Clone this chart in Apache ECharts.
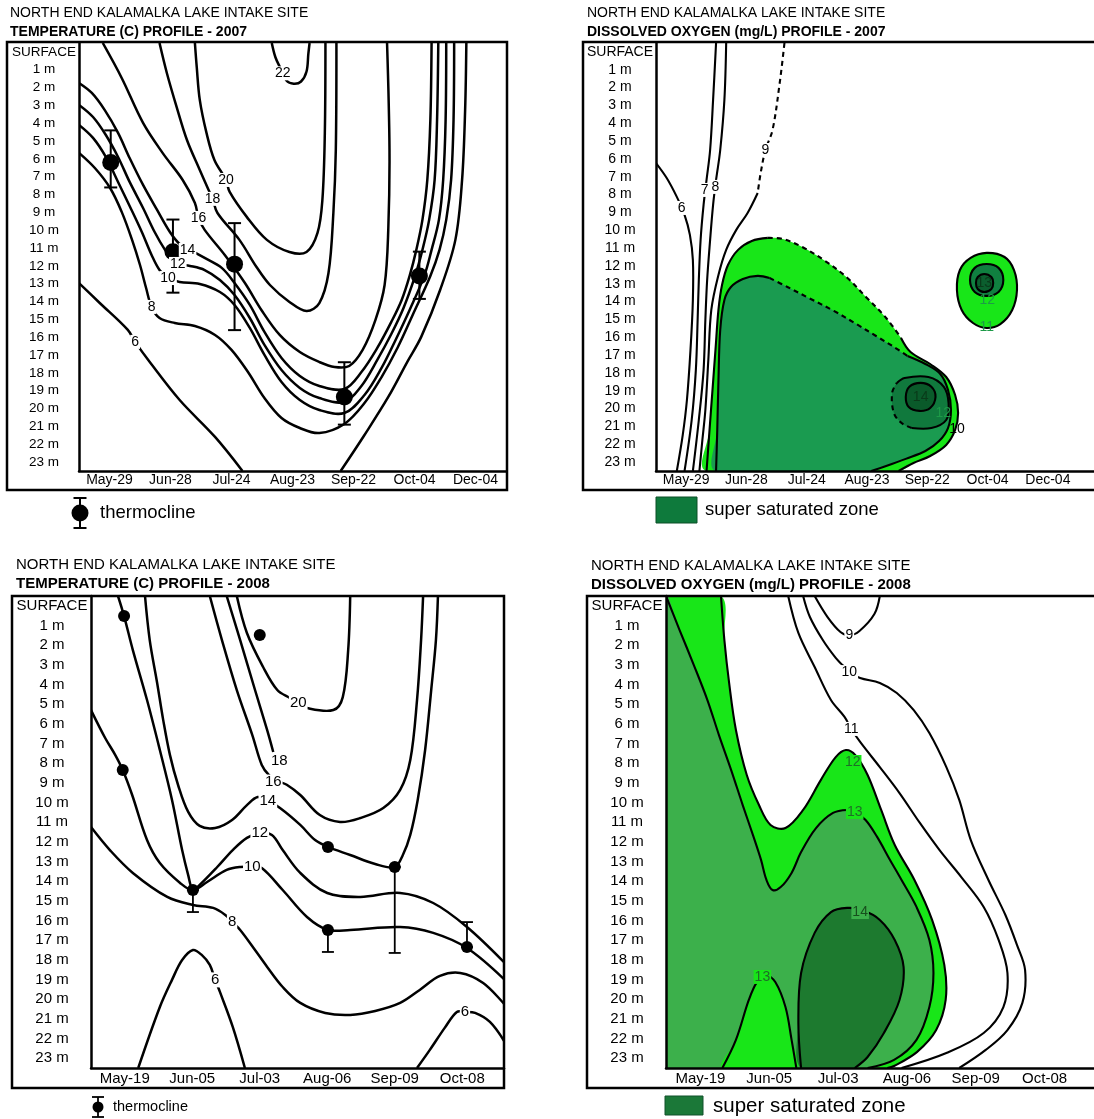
<!DOCTYPE html>
<html>
<head>
<meta charset="utf-8">
<script src="https://cdn.jsdelivr.net/npm/echarts@6/dist/echarts.min.js"></script>
<style>
html,body{margin:0;padding:0;background:#fff;}
#chart{width:1094px;height:1119px;}
</style>
</head>
<body>
<div id="chart"></div>
<script>
// ---------- axis categories ----------
const depthLabels = ['SURFACE','1 m','2 m','3 m','4 m','5 m','6 m','7 m','8 m','9 m','10 m','11 m',
  '12 m','13 m','14 m','15 m','16 m','17 m','18 m','19 m','20 m','21 m','22 m','23 m'];
const dates2007 = ['May-29','Jun-28','Jul-24','Aug-23','Sep-22','Oct-04','Dec-04'];
const dates2008 = ['May-19','Jun-05','Jul-03','Aug-06','Sep-09','Oct-08'];

// Points are [date position (index of the sampling date), depth in m]

// ---------- Temperature 2007 isotherms ----------
const t07_22 = [[2.66,-0.5],[2.72,0.3],[2.80,0.9],[2.90,1.6],[3.02,1.78],[3.14,1.66],[3.23,1.1],[3.26,0.1],[3.28,-0.5]];
const t07_20 = [[1.40,-0.5],[1.43,0.84],[1.48,2.69],[1.59,4.54],[1.72,6.06],[1.91,7.18],[1.97,7.85],[2.25,9.25],[2.58,10.54],[2.95,11.22],[3.23,11.22],[3.41,10.15],[3.49,8.3],[3.53,4.54],[3.54,-0.5]];
const t07_18 = [[0.82,-0.5],[0.94,1.18],[1.10,3.08],[1.27,4.94],[1.48,6.62],[1.61,7.63],[1.69,8.24],[1.77,9.03],[2.13,10.54],[2.41,12.06],[2.63,13.07],[2.95,14.02],[3.23,14.53],[3.44,14.08],[3.59,12.4],[3.67,9.03],[3.71,5.5],[3.72,-0.5]];
const t07_16 = [[-0.11,-0.5],[0.2,1.46],[0.55,3.98],[0.87,5.66],[1.2,7.18],[1.40,8.47],[1.46,9.31],[1.56,9.98],[1.89,11.39],[2.22,12.96],[2.49,14.47],[2.79,15.87],[3.12,16.83],[3.44,17.39],[3.69,17.67],[3.93,17.61],[4.15,16.71],[4.36,15.03],[4.51,13.07],[4.57,9.98],[4.59,5.5],[4.55,-0.5]];
const t07_14 = [[-0.5,1.74],[-0.29,2.30],[-0.08,3.25],[0.14,4.54],[0.33,5.95],[0.55,7.46],[0.78,8.86],[0.99,10.10],[1.15,10.77],[1.32,11.10],[1.56,11.55],[1.84,12.11],[2.05,12.96],[2.30,14.19],[2.54,15.70],[2.82,17.16],[3.12,18.17],[3.44,18.73],[3.85,18.90],[4.13,17.95],[4.39,16.60],[4.62,15.14],[4.79,13.91],[4.92,12.56],[5.03,11.10],[5.13,9.42],[5.21,7.18],[5.26,3.81],[5.28,-0.5]];
const t07_12 = [[-0.5,2.97],[-0.27,3.65],[-0.06,4.66],[0.14,5.89],[0.33,7.29],[0.55,8.75],[0.74,10.10],[0.91,11.10],[1.02,11.55],[1.12,11.89],[1.32,12.00],[1.56,12.23],[1.81,12.79],[2.05,13.63],[2.30,14.92],[2.54,16.43],[2.82,17.84],[3.12,18.84],[3.44,19.41],[3.85,19.63],[4.13,18.73],[4.39,17.27],[4.62,15.82],[4.82,14.36],[5.01,12.56],[5.13,11.10],[5.24,9.42],[5.33,7.18],[5.37,3.81],[5.39,-0.5]];
const t07_10 = [[-0.5,4.09],[-0.27,4.82],[-0.06,5.89],[0.14,7.29],[0.33,8.64],[0.53,10.10],[0.69,11.39],[0.82,12.23],[0.96,12.68],[1.15,12.90],[1.48,13.01],[1.81,13.46],[2.05,14.19],[2.30,15.48],[2.54,16.99],[2.82,18.51],[3.12,19.52],[3.44,20.08],[3.85,20.25],[4.18,19.24],[4.46,17.72],[4.69,16.15],[4.92,14.47],[5.16,12.56],[5.28,11.10],[5.40,9.42],[5.47,7.18],[5.51,3.81],[5.52,-0.5]];
const t07_8 = [[-0.5,5.66],[-0.24,6.51],[0.01,7.63],[0.20,8.97],[0.37,10.54],[0.50,11.95],[0.60,13.24],[0.69,14.30],[0.82,14.92],[1.07,15.20],[1.40,15.37],[1.73,15.87],[2.00,16.71],[2.27,17.95],[2.54,19.41],[2.82,20.53],[3.12,21.09],[3.44,21.37],[3.85,20.86],[4.18,19.69],[4.46,18.23],[4.72,16.60],[4.97,14.75],[5.26,12.56],[5.41,11.10],[5.52,9.42],[5.60,7.18],[5.64,3.81],[5.65,-0.5]];
const t07_6a = [[-0.5,12.96],[-0.16,14.08],[0.30,15.59],[0.42,16.26],[0.66,17.39],[1.15,19.52],[1.73,21.59],[2.18,23.5]];
const t07_6b = [[3.79,23.5],[4.18,21.48],[4.57,19.35],[4.88,17.39],[5.11,15.98],[5.42,13.35],[5.67,10.54],[5.78,7.18],[5.83,3.25],[5.85,-0.5]];
const t07Labels = [['22',2.84,1.2],['20',1.91,7.18],['18',1.69,8.24],['16',1.46,9.31],['14',1.28,11.1],['12',1.12,11.89],['10',0.96,12.68],['8',0.69,14.3],['6',0.42,16.26]];
// thermocline depth and its range on each date
const t07Dots = [[0.02,6.2],[1.04,11.2],[2.05,11.9],[3.85,19.35],[5.08,12.56]];
const t07Bars = [[0.02,4.4,7.6],[1.04,9.4,13.5],[2.05,9.6,15.6],[3.85,17.4,20.9],[5.08,11.2,13.85]];

// ---------- Dissolved oxygen 2007 ----------
const do07_6 = [[-0.5,6.23],[-0.32,7.07],[-0.15,8.13],[-0.02,9.14],[0.07,10.26],[0.12,11.67],[0.12,13.91],[0.08,16.71],[0.02,19.52],[-0.05,21.48],[-0.15,23.5]];
const do07_7 = [[0.51,-0.5],[0.46,2.69],[0.41,5.50],[0.35,7.18],[0.30,8.58],[0.25,10.54],[0.22,12.79],[0.20,15.03],[0.17,17.84],[0.10,20.64],[-0.02,23.5]];
const do07_8 = [[0.68,-0.5],[0.65,2.69],[0.58,5.50],[0.51,7.18],[0.46,8.58],[0.41,10.54],[0.36,12.79],[0.33,15.03],[0.30,17.84],[0.22,20.64],[0.12,23.5]];
const do07_9a = [[1.66,-0.5],[1.58,1.74],[1.46,4.37],[1.34,5.50],[1.26,6.79],[1.21,7.91]];
const do07_9b = [[1.21,7.91],[1.04,9.03],[0.85,9.98],[0.68,11.10],[0.55,12.51],[0.43,14.47],[0.38,17.27],[0.33,20.08],[0.28,21.76],[0.23,23.5]];
const do07_Aleft = [[0.35,23.5],[0.40,21.20],[0.45,18.95],[0.50,16.71],[0.55,14.47],[0.61,13.07],[0.71,11.95],[0.88,11.10],[1.11,10.60],[1.38,10.43]];
const do07_Atop = [[1.38,10.43],[1.63,10.49],[1.96,10.94],[2.32,11.67],[2.70,12.62],[3.03,13.74],[3.37,14.92],[3.62,16.04]];
const do07_Aright = [[3.62,16.04],[3.78,16.83],[4.11,17.50],[4.38,18.23],[4.53,19.24],[4.58,20.25],[4.53,21.20],[4.38,22.04],[4.11,22.66],[3.83,23.05],[3.58,23.5]];
const do07_Bleft = [[0.51,23.5],[0.53,21.20],[0.55,18.40],[0.58,15.59],[0.65,13.91],[0.76,13.18],[0.96,12.73],[1.21,12.56],[1.41,12.68]];
const do07_Btop = [[1.41,12.68],[1.71,13.18],[2.07,13.80],[2.49,14.52],[2.87,15.26],[3.20,15.93],[3.50,16.54],[3.73,17.05]];
const do07_Bright = [[3.73,17.05],[4.03,17.50],[4.28,18.06],[4.41,18.95],[4.46,20.08],[4.41,21.09],[4.26,21.82],[4.03,22.38],[3.70,22.82],[3.37,23.22],[3.12,23.5]];
const do07_Csolid = [[3.55,18.56],[3.68,18.28],[4.08,18.23],[4.34,18.78],[4.42,19.69],[4.38,20.64],[4.13,21.09],[3.80,21.09]];
const do07_Cdash = [[3.80,21.09],[3.63,20.81],[3.50,20.25],[3.47,19.12],[3.55,18.56]];
const do07_D = [[3.95,18.56],[4.13,18.78],[4.20,19.35],[4.11,19.97],[3.93,20.13],[3.75,19.91],[3.70,19.35],[3.76,18.78]];
const do07_E = [[5.06,11.27],[5.36,11.50],[5.52,12.23],[5.57,13.35],[5.49,14.47],[5.29,15.26],[5.06,15.48],[4.83,15.20],[4.64,14.47],[4.56,13.35],[4.61,12.23],[4.79,11.55]];
const do07_F = [[5.06,11.89],[5.26,12.11],[5.34,12.79],[5.26,13.46],[5.06,13.68],[4.86,13.46],[4.78,12.79],[4.86,12.11]];
const do07_G = [[5.02,12.45],[5.14,12.62],[5.17,12.96],[5.14,13.29],[5.02,13.46],[4.91,13.29],[4.88,12.96],[4.91,12.62]];
const do07LineLabels = [['6',-0.07,8.75],['7',0.32,7.74],['8',0.50,7.57],['9',1.34,5.5]];
const do07DarkLabels = [['14',3.95,19.35],['13',5.02,12.96]];
const do07GreenLabels = [['12',4.33,20.25],['12',5.07,13.91],['11',5.06,15.42]];
const do07PlainLabels = [['10',4.56,21.14]];

// ---------- Temperature 2008 isotherms ----------
const t08_20 = [[1.66,-0.5],[1.81,1.38],[2.05,3.11],[2.26,4.28],[2.45,4.69],[2.57,4.94],[2.70,5.20],[3.09,5.30],[3.23,4.64],[3.31,2.25],[3.34,-0.5]];
const t08_18 = [[1.51,-0.5],[1.71,1.74],[1.93,4.28],[2.11,6.32],[2.20,7.43]];
const t08_16 = [[1.26,-0.5],[1.44,1.74],[1.66,4.28],[1.89,6.57],[2.03,8.09],[2.14,8.62],[2.26,8.90],[2.40,9.10],[2.60,9.62],[2.89,10.64],[3.19,10.99],[3.49,10.79],[3.83,10.28],[4.08,9.36],[4.23,7.84],[4.33,4.79],[4.39,1.74],[4.42,-0.5]];
const t08_14 = [[0.30,-0.5],[0.37,1.74],[0.48,3.92],[0.57,5.81],[0.67,7.59],[0.79,9.11],[0.94,10.48],[1.11,11.19],[1.34,11.30],[1.59,10.89],[1.81,10.13],[1.97,9.72],[2.12,9.92],[2.30,10.28],[2.60,11.14],[2.82,11.91],[3.01,12.26],[3.34,12.67],[3.71,13.13],[4.00,13.28],[4.12,12.67],[4.23,11.65],[4.34,9.87],[4.45,7.33],[4.54,4.28],[4.61,1.74],[4.64,-0.5]];
const t08_12 = [[-0.10,-0.5],[-0.01,0.52],[0.12,2.25],[0.33,4.79],[0.52,7.33],[0.70,9.87],[0.85,12.42],[0.94,13.69],[1.01,14.45],[1.11,14.19],[1.37,13.28],[1.60,12.42],[1.81,11.80],[2.00,11.55],[2.18,11.65],[2.34,12.42],[2.60,13.58],[3.00,14.60],[3.49,14.80],[4.08,14.60],[4.57,15.11],[5.07,16.33],[5.63,18.16]];
const t08_10 = [[-0.5,5.30],[-0.29,6.72],[-0.14,7.59],[-0.03,8.35],[0.11,9.62],[0.33,11.91],[0.52,13.08],[0.82,14.09],[1.01,14.45],[1.22,14.04],[1.51,13.43],[1.71,13.28],[1.89,13.28],[2.03,13.33],[2.34,14.45],[2.70,15.82],[3.01,16.48],[3.34,16.48],[4.08,16.33],[4.57,16.63],[5.07,17.40],[5.63,19.02]];
const t08_8 = [[-0.5,11.25],[-0.22,12.42],[0.12,13.58],[0.63,14.80],[1.01,15.21],[1.31,15.36],[1.49,15.72],[1.59,16.08],[1.71,16.48],[1.93,17.50],[2.11,18.36],[2.34,19.38],[2.60,20.19],[2.97,20.70],[3.34,20.80],[3.71,20.60],[4.08,20.19],[4.37,19.53],[4.67,18.82],[4.97,18.67],[5.31,19.18],[5.63,20.29]];
const t08_6a = [[0.20,23.5],[0.52,20.40],[0.70,19.02],[0.85,18.01],[1.01,17.50],[1.14,17.75],[1.26,18.26],[1.34,19.02],[1.41,19.63],[1.60,21.41],[1.78,23.5]];
const t08_6b = [[4.33,23.5],[4.52,22.58],[4.74,21.46],[4.92,20.65],[5.04,20.65],[5.19,20.70],[5.41,21.16],[5.63,22.18]];
const t08Labels = [['20',2.57,4.94],['18',2.29,7.89],['16',2.20,8.96],['14',2.12,9.92],['12',2.00,11.55],['10',1.89,13.28],['8',1.59,16.08],['6',1.34,19.02],['6',5.04,20.65]];
const t08Dots = [[-0.01,0.52],[-0.03,8.35],[2.00,1.48],[1.01,14.45],[3.01,12.26],[3.01,16.48],[4.00,13.28],[5.07,17.35]];
const t08Bars = [[1.01,14.45,15.57],[3.01,16.48,17.60],[4.00,13.28,17.65],[5.07,16.08,17.35]];

// ---------- Dissolved oxygen 2008 ----------
const do08_12 = [[0.31,-0.5],[0.36,1.74],[0.43,3.92],[0.53,6.31],[0.69,8.60],[0.87,10.13],[1.04,11.14],[1.26,11.30],[1.52,10.38],[1.78,8.86],[2.00,7.69],[2.15,7.33],[2.29,7.59],[2.47,8.60],[2.67,10.38],[2.87,12.16],[3.16,13.94],[3.42,15.97],[3.60,18.26],[3.62,20.04],[3.48,21.57],[3.20,22.68],[2.86,23.40],[2.76,23.5]];
const do08_13 = [[-0.5,-0.5],[-0.30,1.23],[-0.09,3.01],[0.11,4.79],[0.28,6.57],[0.46,8.35],[0.63,10.13],[0.78,11.65],[0.90,12.92],[0.98,13.94],[1.07,14.45],[1.19,14.30],[1.35,13.58],[1.49,12.52],[1.71,11.30],[1.96,10.53],[2.17,10.38],[2.28,10.48],[2.44,10.89],[2.61,11.75],[2.80,12.92],[2.97,13.94],[3.19,15.31],[3.38,16.99],[3.44,18.67],[3.38,20.40],[3.19,22.07],[2.86,23.09],[2.47,23.5]];
const do08_13b = [[0.33,23.5],[0.53,22.07],[0.72,20.04],[0.84,19.13],[0.97,18.77],[1.11,19.13],[1.26,20.40],[1.35,22.07],[1.42,23.5]];
const do08_14 = [[1.49,23.5],[1.45,21.21],[1.49,18.67],[1.69,16.63],[1.93,15.57],[2.17,15.36],[2.39,15.47],[2.65,15.97],[2.87,16.99],[3.00,18.36],[2.94,20.04],[2.71,21.72],[2.47,22.94],[2.28,23.5]];
const do08_9 = [[1.69,-0.5],[1.88,0.57],[2.07,1.33],[2.20,1.50],[2.35,1.28],[2.57,0.42],[2.65,-0.5]];
const do08_10 = [[1.52,-0.5],[1.62,0.57],[1.81,1.74],[2.00,2.65],[2.10,3.01],[2.20,3.37],[2.36,3.67],[2.65,3.92],[2.90,4.43],[3.15,5.30],[3.38,6.47],[3.63,8.20],[3.82,9.87],[3.99,11.91],[4.25,13.94],[4.50,15.72],[4.67,17.24],[4.79,18.52],[4.75,20.19],[4.53,21.57],[4.21,22.58],[3.82,23.5]];
const do08_11 = [[1.30,-0.5],[1.45,1.38],[1.69,3.11],[1.93,4.79],[2.13,5.65],[2.23,6.26],[2.36,6.92],[2.65,8.20],[2.94,9.52],[3.24,11.04],[3.53,12.42],[3.85,13.79],[4.18,15.31],[4.40,16.99],[4.53,18.67],[4.47,20.40],[4.18,21.72],[3.63,22.74],[2.97,23.5]];
const do08LineLabels = [['9',2.20,1.48],['10',2.20,3.37],['11',2.23,6.26]];
const do08BrightLabels = [['12',2.25,7.94],['13',2.28,10.48],['13',0.92,18.87]];
const do08DarkLabels = [['14',2.36,15.57]];

// ---------- styling ----------
const FONT = '"Liberation Sans", Arial, Helvetica, sans-serif';
const BRIGHT = '#18e618';
const DO07_MID = '#1a9b50', DO07_DEEP = '#10793d', DO07_CORE = '#0a5a2a';
const DO07_BLOB_MID = '#108040', DO07_BLOB_CORE = '#0b5e2e';
const DO08_MID = '#3cb04b', DO08_DEEP = '#1d7a2f';
const LW_TEMP = 2.5, LW_DO = 2.1;

// panel layout: label grid carries the date/depth categories, data grid the contour scale
const panels = [
  {left:79,  top:43,  height:428, labelW:427, dataW:427, dates:dates2007, fx:14, fy:13.5, ym:35, xm:2},
  {left:656, top:43,  height:428, labelW:422, dataW:444, dates:dates2007, fx:14, fy:14,   ym:36, xm:2},
  {left:91,  top:596, height:472, labelW:405, dataW:413, dates:dates2008, fx:15, fy:15,   ym:39, xm:3},
  {left:666, top:596, height:472, labelW:413, dataW:434, dates:dates2008, fx:15, fy:15,   ym:39, xm:3}
];

const grid = [], xAxis = [], yAxis = [];
panels.forEach(p => {
  const step = p.labelW / p.dates.length;
  const gi = grid.length;
  grid.push({left:p.left, top:p.top, width:p.labelW, height:p.height});
  grid.push({left:p.left, top:p.top, width:p.dataW, height:p.height});
  xAxis.push({type:'category', gridIndex:gi, data:p.dates, boundaryGap:true,
    axisLine:{show:false}, axisTick:{show:false}, splitLine:{show:false},
    axisLabel:{interval:0, margin:p.xm, fontSize:p.fx, fontFamily:FONT, color:'#000'}});
  xAxis.push({type:'value', gridIndex:gi+1, min:-0.5, max:-0.5 + p.dataW/step, z:20,
    axisLine:{show:true, onZero:false, lineStyle:{color:'#000', width:2.5}},
    axisTick:{show:false}, axisLabel:{show:false}, splitLine:{show:false}});
  yAxis.push({type:'category', gridIndex:gi, data:depthLabels, inverse:true,
    axisLine:{show:false}, axisTick:{show:false}, splitLine:{show:false},
    axisLabel:{interval:0, align:'center', margin:p.ym, fontSize:p.fy, fontFamily:FONT, color:'#000'}});
  yAxis.push({type:'value', gridIndex:gi+1, min:-0.5, max:23.5, inverse:true, z:20,
    axisLine:{show:true, onZero:false, lineStyle:{color:'#000', width:2.5}},
    axisTick:{show:false}, axisLabel:{show:false}, splitLine:{show:false}});
});

const ax = k => 2*k + 1;
const series = [];

// smooth curve or filled area drawn through the data grid scale
function curve(k, pts, o) {
  o = o || {};
  series.push({
    type:'custom', xAxisIndex:ax(k), yAxisIndex:ax(k), clip:true, silent:true,
    z: o.z || 3, data: pts,
    renderItem(params, api) {
      if (params.dataIndex !== 0) return null;
      const p = pts.map(q => api.coord(q));
      return {
        type: (o.fill || o.closed) ? 'polygon' : 'polyline',
        shape: {points:p, smooth:0.35},
        style: {fill: o.fill || 'none', stroke: o.fill ? null : '#000',
                lineWidth: o.lw || 2, lineDash: o.dash || null}
      };
    }
  });
}
function fill(k, pts, color) { curve(k, pts, {fill:color, z:1}); }

function labels(k, arr, o) {
  series.push({
    type:'custom', xAxisIndex:ax(k), yAxisIndex:ax(k), silent:true, z:8,
    data: arr.map(r => [r[1], r[2]]),
    renderItem(params, api) {
      const c = api.coord([api.value(0), api.value(1)]);
      return {type:'text', x:c[0], y:c[1],
        style:{text:arr[params.dataIndex][0], fontSize:o.fs, fontFamily:FONT,
          fill:o.color || '#000', align:'center', verticalAlign:'middle',
          backgroundColor:o.bg || null, padding:[0,1]}};
    }
  });
}

function thermocline(k, dots, bars, size, cap, lw) {
  series.push({
    type:'custom', xAxisIndex:ax(k), yAxisIndex:ax(k), silent:true, z:5, data:bars,
    renderItem(params, api) {
      const x = api.value(0);
      const a = api.coord([x, api.value(1)]), b = api.coord([x, api.value(2)]);
      const st = {stroke:'#000', lineWidth:lw};
      return {type:'group', children:[
        {type:'line', shape:{x1:a[0], y1:a[1], x2:b[0], y2:b[1]}, style:st},
        {type:'line', shape:{x1:a[0]-cap/2, y1:a[1], x2:a[0]+cap/2, y2:a[1]}, style:st},
        {type:'line', shape:{x1:b[0]-cap/2, y1:b[1], x2:b[0]+cap/2, y2:b[1]}, style:st}
      ]};
    }
  });
  series.push({type:'scatter', xAxisIndex:ax(k), yAxisIndex:ax(k), silent:true, z:6,
    data:dots, symbol:'circle', symbolSize:size, itemStyle:{color:'#000', opacity:1}});
}

// ---- panel 1: temperature 2007 ----
[t07_22, t07_20, t07_18, t07_16, t07_14, t07_12, t07_10, t07_8, t07_6a, t07_6b].forEach(c => curve(0, c, {lw:LW_TEMP}));
thermocline(0, t07Dots, t07Bars, 17, 13, 2);
labels(0, t07Labels, {fs:14, bg:'#fff'});

// ---- panel 2: dissolved oxygen 2007 ----
fill(1, [...do07_Aleft, ...do07_Atop.slice(1), ...do07_Aright.slice(1)], BRIGHT);
fill(1, [...do07_Bleft, ...do07_Btop.slice(1), ...do07_Bright.slice(1)], DO07_MID);
fill(1, [...do07_Csolid, ...do07_Cdash.slice(1, -1)], DO07_DEEP);
fill(1, do07_D, DO07_CORE);
fill(1, do07_E, BRIGHT);
fill(1, do07_F, DO07_BLOB_MID);
fill(1, do07_G, DO07_BLOB_CORE);
const DASH = [5, 4];
curve(1, do07_Aleft, {lw:LW_DO});
curve(1, do07_Atop, {lw:LW_DO, dash:DASH});
curve(1, do07_Aright, {lw:LW_DO});
curve(1, do07_Bleft, {lw:LW_DO});
curve(1, do07_Btop, {lw:LW_DO, dash:DASH});
curve(1, do07_Bright, {lw:LW_DO});
curve(1, do07_Csolid, {lw:LW_DO});
curve(1, do07_Cdash, {lw:LW_DO, dash:DASH});
curve(1, do07_D, {lw:LW_DO, closed:true});
curve(1, do07_E, {lw:LW_DO, closed:true});
curve(1, do07_F, {lw:LW_DO, closed:true});
curve(1, do07_G, {lw:LW_DO, closed:true});
[do07_6, do07_7, do07_8, do07_9b].forEach(c => curve(1, c, {lw:LW_DO}));
curve(1, do07_9a, {lw:LW_DO, dash:DASH});
labels(1, do07LineLabels, {fs:14, bg:'#fff'});
labels(1, do07DarkLabels, {fs:14, color:'#0a3a1a'});
labels(1, do07GreenLabels, {fs:14, color:'#1d9a48'});
labels(1, do07PlainLabels, {fs:14});

// ---- panel 3: temperature 2008 ----
[t08_20, t08_18, t08_16, t08_14, t08_12, t08_10, t08_8, t08_6a, t08_6b].forEach(c => curve(2, c, {lw:LW_TEMP}));
thermocline(2, t08Dots, t08Bars, 12, 12, 1.8);
labels(2, t08Labels, {fs:15, bg:'#fff'});

// ---- panel 4: dissolved oxygen 2008 ----
fill(3, [[-0.5,-0.5], ...do08_12, [-0.5,23.5]], BRIGHT);
fill(3, [...do08_13, [-0.5,23.5]], DO08_MID);
fill(3, do08_13b, BRIGHT);
fill(3, do08_14, DO08_DEEP);
[do08_12, do08_13, do08_13b, do08_14, do08_9, do08_10, do08_11].forEach(c => curve(3, c, {lw:LW_DO}));
labels(3, do08LineLabels, {fs:14, bg:'#fff'});
labels(3, do08BrightLabels, {fs:14, color:'#1f6e28', bg:BRIGHT});
labels(3, do08DarkLabels, {fs:14, color:'#174f1d', bg:DO08_MID});

// ---------- titles, frames and keys ----------
const frame = (x, y, w, h) => ({type:'rect', shape:{x, y, width:w, height:h},
  style:{fill:'none', stroke:'#000', lineWidth:2.5}, silent:true, z:30});
const text = (x, y, s, size, bold) => ({type:'text', x, y, silent:true, z:30,
  style:{text:s, fontSize:size, fontFamily:FONT, fontWeight:bold ? 'bold' : 'normal',
    fill:'#000', verticalAlign:'middle', align:'left'}});
const thermoKey = (x, y, half, r, cap, lw) => ({type:'group', silent:true, z:30, children:[
  {type:'line', shape:{x1:x, y1:y-half, x2:x, y2:y+half}, style:{stroke:'#000', lineWidth:lw}},
  {type:'line', shape:{x1:x-cap/2, y1:y-half, x2:x+cap/2, y2:y-half}, style:{stroke:'#000', lineWidth:lw}},
  {type:'line', shape:{x1:x-cap/2, y1:y+half, x2:x+cap/2, y2:y+half}, style:{stroke:'#000', lineWidth:lw}},
  {type:'circle', shape:{cx:x, cy:y, r:r}, style:{fill:'#000'}}
]});

const graphic = [
  frame(7, 42, 500, 448), frame(583, 42, 540, 448),
  frame(12, 596, 492, 492), frame(587, 596, 540, 492),
  text(10, 13, 'NORTH END KALAMALKA LAKE INTAKE SITE', 14, false),
  text(10, 32, 'TEMPERATURE (C) PROFILE - 2007', 14, true),
  text(587, 13, 'NORTH END KALAMALKA LAKE INTAKE SITE', 14, false),
  text(587, 32, 'DISSOLVED OXYGEN (mg/L) PROFILE - 2007', 14, true),
  text(16, 565, 'NORTH END KALAMALKA LAKE INTAKE SITE', 15, false),
  text(16, 584, 'TEMPERATURE (C) PROFILE - 2008', 15, true),
  text(591, 566, 'NORTH END KALAMALKA LAKE INTAKE SITE', 15, false),
  text(591, 585, 'DISSOLVED OXYGEN (mg/L) PROFILE - 2008', 15, true),
  thermoKey(80, 513, 15, 8.5, 13, 2),
  text(100, 513, 'thermocline', 18.5, false),
  {type:'rect', shape:{x:656, y:497, width:41, height:26}, style:{fill:'#0e7a3c', stroke:'#0a4f26', lineWidth:1}, silent:true, z:30},
  text(705, 510, 'super saturated zone', 18.5, false),
  thermoKey(98, 1107, 10, 5.5, 12, 1.8),
  text(113, 1107, 'thermocline', 14.5, false),
  {type:'rect', shape:{x:665, y:1096, width:38, height:19}, style:{fill:'#1b7838', stroke:'#10502a', lineWidth:1}, silent:true, z:30},
  text(713, 1106, 'super saturated zone', 20.5, false)
];

const chart = echarts.init(document.getElementById('chart'), null, {renderer:'canvas'});
chart.setOption({
  animation:false,
  backgroundColor:'#fff',
  grid, xAxis, yAxis, series, graphic
});
</script>
</body>
</html>
